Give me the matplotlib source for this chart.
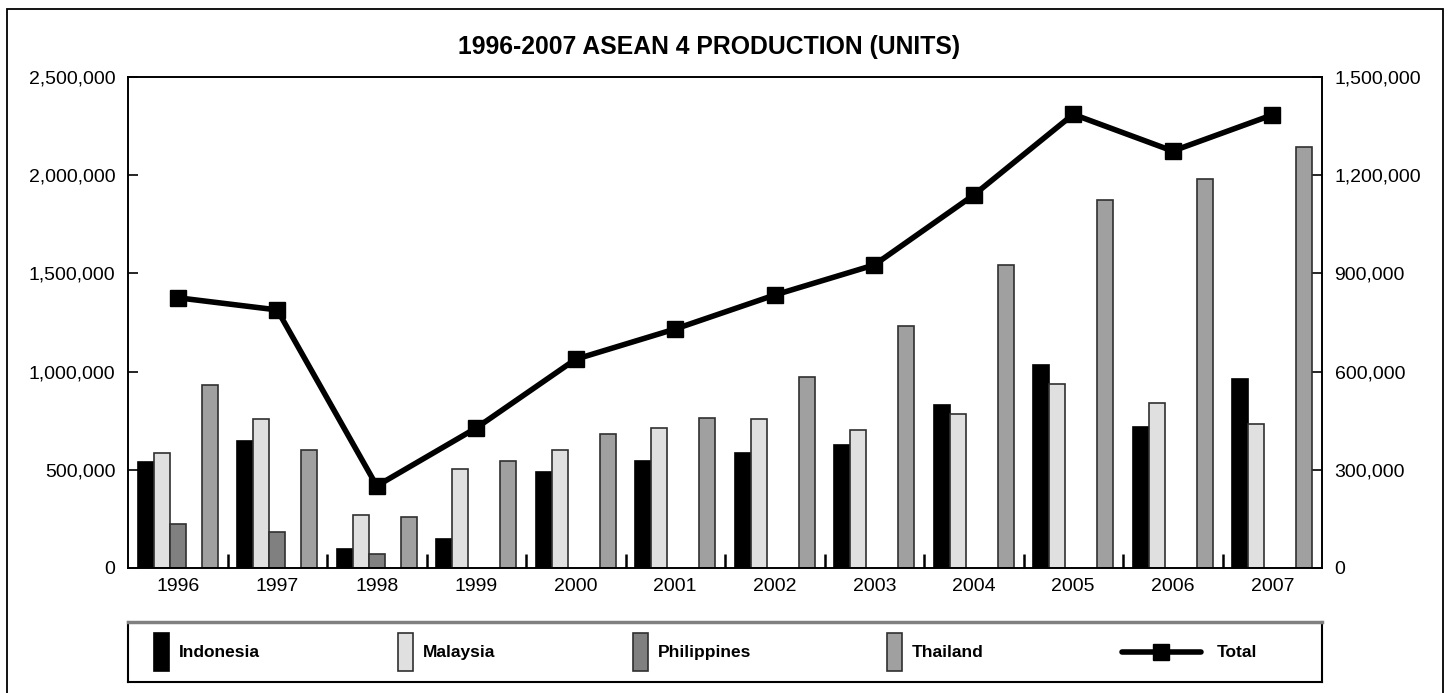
import matplotlib
matplotlib.use('Agg')
import matplotlib.pyplot as plt
import numpy as np
from matplotlib import font_manager
from matplotlib.patches import Rectangle
from matplotlib.lines import Line2D
from matplotlib.ticker import FuncFormatter, FixedLocator

# production data (units)
years = ['1996', '1997', '1998', '1999', '2000', '2001', '2002', '2003',
         '2004', '2005', '2006', '2007']
indonesia = [325000, 388000, 57000, 89000, 292000, 328000, 352000, 375000,
             497000, 621000, 432000, 576000]
malaysia = [352000, 455000, 163000, 302000, 360000, 427000, 455000, 423000,
            471000, 562000, 503000, 441000]
philippines = [135000, 109000, 44000, np.nan, np.nan, np.nan, np.nan, np.nan,
               np.nan, np.nan, np.nan, np.nan]
thailand = [558000, 360000, 157000, 326000, 410000, 457000, 584000, 739000,
            926000, 1124000, 1187000, 1286000]
total = [1376000, 1314000, 418000, 713000, 1063000, 1217000, 1390000, 1543000,
         1899000, 2310000, 2123000, 2307000]

series = [('Indonesia', indonesia, '#000000', '#000000'),
          ('Malaysia', malaysia, '#e0e0e0', '#303030'),
          ('Philippines', philippines, '#808080', '#303030'),
          ('Thailand', thailand, '#a0a0a0', '#303030')]
slots = [0, 1, 2, 4]   # slot 3 stays empty

W, H = 1454, 693
fig = plt.figure(figsize=(W / 100, H / 100), dpi=100)
plt.rcParams['font.family'] = ['Liberation Sans', 'DejaVu Sans']

# legend labels are a condensed bold face in the original
names = {f.name for f in font_manager.fontManager.ttflist}
if 'Liberation Sans Narrow' in names:
    leg_font, leg_size = ['Liberation Sans Narrow', 'Liberation Sans'], 14.5
else:
    leg_font, leg_size = ['Liberation Sans'], 12.5

ax = fig.add_axes([128 / W, 1 - 568 / H, 1194 / W, 491 / H])
x = np.arange(len(years))
bw = 0.16
for (name, vals, fc, ec), s in zip(series, slots):
    ax.bar(x - 0.32 + s * bw, vals, bw, color=fc, edgecolor=ec, linewidth=1.2, zorder=2)

# total line on the left-hand scale
ax2 = ax.twinx()
ax2.plot(x, total, color='black', linewidth=4, marker='s', markersize=12, zorder=3)
ax2.set_ylim(0, 2500000)
ax2.yaxis.tick_left()
ax2.set_yticks(np.arange(0, 2500001, 500000))
ax2.yaxis.set_major_formatter(FuncFormatter(lambda v, p: f'{v:,.0f}'))
ax2.tick_params(axis='y', direction='in', length=7, width=1.2, pad=9, labelsize=14)

ax.set_xlim(-0.5, len(years) - 0.5)
ax.set_ylim(0, 1500000)
ax.yaxis.tick_right()
ax.set_yticks(np.arange(0, 1500001, 300000))
ax.yaxis.set_major_formatter(FuncFormatter(lambda v, p: f'{v:,.0f}'))
ax.tick_params(axis='y', direction='in', length=7, width=1.2, pad=9, labelsize=14)
ax.set_xticks(x)
ax.set_xticklabels(years)
ax.tick_params(axis='x', which='major', length=0, pad=7, labelsize=14)
ax.xaxis.set_minor_locator(FixedLocator(np.arange(0.5, len(years) - 1, 1.0)))
ax.tick_params(axis='x', which='minor', direction='in', length=10, width=1.8)
for a in (ax, ax2):
    for sp in a.spines.values():
        sp.set_linewidth(1.2)

fig.text(709 / W, 1 - 54 / H, '1996-2007 ASEAN 4 PRODUCTION (UNITS)',
         ha='center', va='baseline', fontsize=17.8, fontweight='bold')

# legend box drawn in its own pixel-scaled axes
lax = fig.add_axes([128 / W, 1 - 682 / H, 1194 / W, 60 / H])
lax.set_xlim(128, 1322)
lax.set_ylim(682, 622)
lax.set_xticks([])
lax.set_yticks([])
for sp in lax.spines.values():
    sp.set_linewidth(1.5)
lax.spines['top'].set_color('#808080')
lax.spines['top'].set_linewidth(2.5)
patch_x = [154, 398, 633, 887]
for (name, vals, fc, ec), px in zip(series, patch_x):
    lax.add_patch(Rectangle((px, 633), 15, 38, facecolor=fc, edgecolor=ec, linewidth=1.2))
    lax.text(px + 25, 653, name, ha='left', va='center', fontsize=leg_size,
             fontweight='bold', family=leg_font)
lax.add_line(Line2D([1122, 1201], [652, 652], color='black', linewidth=4,
                    solid_capstyle='round'))
lax.add_line(Line2D([1161], [652], marker='s', markersize=12, color='black'))
lax.text(1217, 653, 'Total', ha='left', va='center', fontsize=leg_size,
         fontweight='bold', family=leg_font)

# outer frame
fig.add_artist(Rectangle((7 / W, -0.02), 1436 / W, 1 - 9 / H + 0.02,
                         transform=fig.transFigure, fill=False, linewidth=1.3,
                         edgecolor='black'))

fig.savefig('out.png', dpi=100)
